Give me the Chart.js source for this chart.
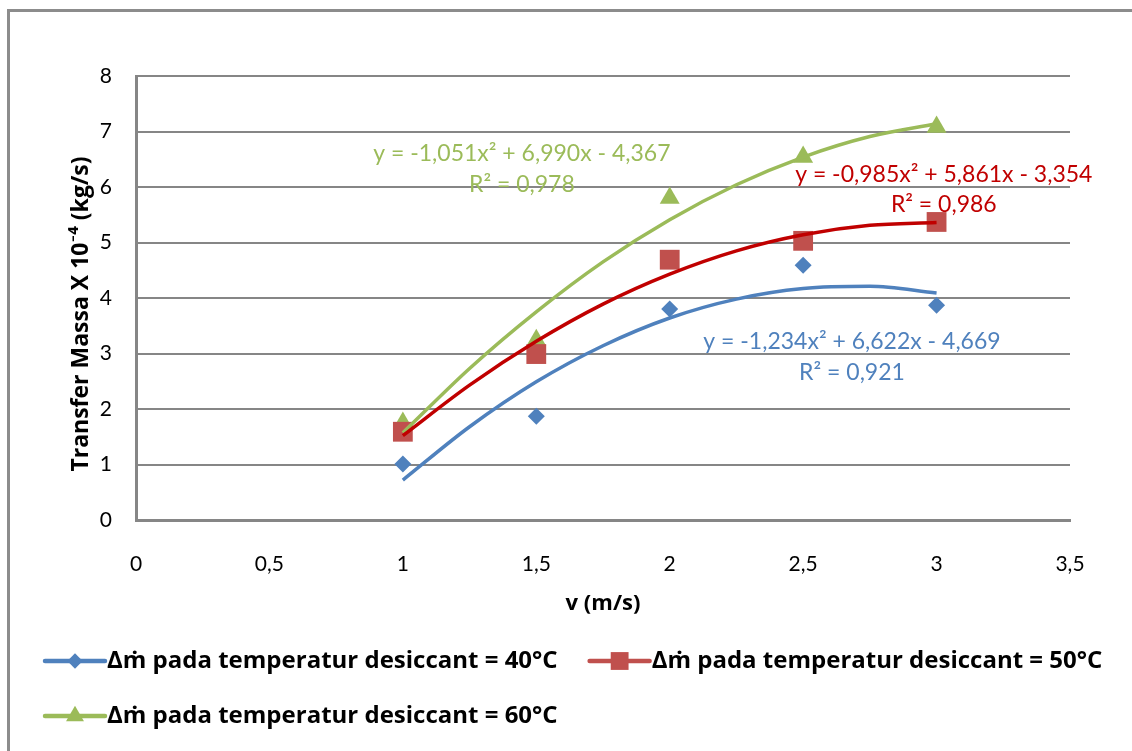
<!DOCTYPE html>
<html lang="id">
<head>
<meta charset="UTF-8">
<title>Transfer Massa vs v</title>
<script src="https://cdn.jsdelivr.net/npm/chart.js@4"></script>
<style>
  html, body { margin: 0; padding: 0; background: #fff; }
  .wrap { position: relative; width: 1132px; height: 751px; overflow: hidden; }
  .frame {
    position: absolute; left: 7px; top: 9px; width: 1300px; height: 900px;
    border-left: 3px solid #8c8c8c; border-top: 3px solid #8c8c8c;
  }
  canvas { position: absolute; left: 0; top: 0; }
</style>
</head>
<body>
<div class="wrap">
  <div class="frame"></div>
  <canvas id="chart" width="1132" height="751"></canvas>
</div>
<script>
// measured points (x = v in m/s, y = mass transfer x 10^-4 kg/s)
const velocity = [1, 1.5, 2, 2.5, 3];
const dm40 = [1.01, 1.87, 3.80, 4.59, 3.87];
const dm50 = [1.59, 2.99, 4.69, 5.03, 5.37];
const dm60 = [1.75, 3.24, 5.80, 6.54, 7.08];

// polynomial trendlines, every 0.25 m/s
const trendX = [1, 1.25, 1.5, 1.75, 2, 2.25, 2.5, 2.75, 3];
const trend40 = [0.72, 1.68, 2.49, 3.14, 3.64, 3.98, 4.17, 4.21, 4.09];
const trend50 = [1.52, 2.43, 3.22, 3.89, 4.43, 4.85, 5.14, 5.31, 5.36];
const trend60 = [1.57, 2.73, 3.75, 4.65, 5.41, 6.04, 6.54, 6.91, 7.14];

const seriesNames = [
  'Δṁ pada temperatur desiccant = 40°C',
  'Δṁ pada temperatur desiccant = 50°C',
  'Δṁ pada temperatur desiccant = 60°C'
];
const equations = [
  ['y = -1,234x² + 6,622x - 4,669', 'R² = 0,921'],
  ['y = -0,985x² + 5,861x - 3,354', 'R² = 0,986'],
  ['y = -1,051x² + 6,990x - 4,367', 'R² = 0,978']
];

const xTicks = [0, 0.5, 1, 1.5, 2, 2.5, 3, 3.5];
const yTicks = [0, 1, 2, 3, 4, 5, 6, 7, 8];
const yTitle = 'Transfer Massa X 10⁻⁴ (kg/s)';
const xTitle = 'v (m/s)';

const FONT = 'Lato, "Open Sans", sans-serif';
const BOLD = '"Open Sans", Lato, sans-serif';
const GRID = '#868686';

const toPts = (xs, ys) => xs.map((x, i) => ({ x: x, y: ys[i] }));
const comma = v => String(v).replace('.', ',');

function trendSet(ys, color) {
  return {
    data: toPts(trendX, ys), showLine: true, borderColor: color, borderWidth: 3.5,
    pointRadius: 0, cubicInterpolationMode: 'monotone', order: 0, isTrend: true
  };
}
function markSet(label, ys, color, style, radius) {
  return {
    label: label, data: toPts(velocity, ys), showLine: false,
    backgroundColor: color, borderColor: color, borderWidth: 0,
    pointStyle: style, pointRadius: radius, pointHoverRadius: radius, order: 1
  };
}

// trendline equations placed in data units
const equationPlugin = {
  id: 'equations',
  afterDatasetsDraw(chart, args, opts) {
    const { ctx, scales: { x, y } } = chart;
    ctx.save();
    ctx.font = opts.font;
    ctx.textAlign = 'center';
    ctx.textBaseline = 'middle';
    opts.items.forEach(it => {
      ctx.fillStyle = it.color;
      ctx.fillText(it.lines[0], x.getPixelForValue(it.x), y.getPixelForValue(it.y));
      ctx.fillText(it.lines[1], x.getPixelForValue(it.x), y.getPixelForValue(it.y2));
    });
    ctx.restore();
  }
};

// rotated y axis title, sits a little below the middle of the plot like the original
const yTitlePlugin = {
  id: 'yTitle',
  afterDraw(chart, args, opts) {
    const { ctx, chartArea } = chart;
    ctx.save();
    ctx.translate(opts.x, (chartArea.top + chartArea.bottom) / 2 + opts.shift);
    ctx.rotate(-Math.PI / 2);
    ctx.font = opts.font;
    ctx.fillStyle = '#000';
    ctx.textAlign = 'center';
    ctx.textBaseline = 'middle';
    ctx.fillText(opts.text, 0, 0);
    ctx.restore();
  }
};

// legend with line + marker, like the spreadsheet one
const legendPlugin = {
  id: 'lineLegend',
  afterDraw(chart, args, opts) {
    const ctx = chart.ctx;
    ctx.save();
    ctx.font = opts.font;
    ctx.textBaseline = 'middle';
    let x = opts.left, row = 0;
    chart.data.datasets.forEach(ds => {
      if (ds.isTrend) return;
      const w = opts.lineLen + opts.gap + ctx.measureText(ds.label).width;
      if (x + w > chart.width - 5) { x = opts.left; row++; }
      const yy = opts.top + row * opts.rowGap;
      ctx.strokeStyle = ds.borderColor;
      ctx.lineWidth = 4.5;
      ctx.lineCap = 'round';
      ctx.beginPath();
      ctx.moveTo(x, yy);
      ctx.lineTo(x + opts.lineLen, yy);
      ctx.stroke();
      ctx.fillStyle = ds.backgroundColor;
      Chart.helpers.drawPoint(ctx, { pointStyle: ds.pointStyle, radius: ds.pointRadius * 0.9, rotation: 0, borderWidth: 0 }, x + opts.lineLen / 2, yy);
      ctx.fillStyle = '#000';
      ctx.fillText(ds.label, x + opts.lineLen + opts.gap, yy);
      x += w + opts.itemGap;
    });
    ctx.restore();
  }
};

new Chart(document.getElementById('chart'), {
  type: 'scatter',
  data: {
    datasets: [
      trendSet(trend40, '#4F81BD'),
      trendSet(trend50, '#C00000'),
      trendSet(trend60, '#9BBB59'),
      markSet(seriesNames[0], dm40, '#4F81BD', 'rectRot', 8.5),
      markSet(seriesNames[1], dm50, '#C0504D', 'rect', 14),
      markSet(seriesNames[2], dm60, '#9BBB59', 'triangle', 11.5)
    ]
  },
  options: {
    responsive: false,
    animation: false,
    layout: { padding: { top: 76, right: 62, bottom: 131, left: 0 } },
    plugins: {
      legend: { display: false },
      tooltip: { enabled: false },
      equations: {
        font: '23px ' + FONT,
        items: [
          { lines: equations[2], color: '#9BBB59', x: 1.446, y: 6.61, y2: 6.04 },
          { lines: equations[1], color: '#C00000', x: 3.027, y: 6.23, y2: 5.68 },
          { lines: equations[0], color: '#4F81BD', x: 2.683, y: 3.21, y2: 2.65 }
        ]
      },
      yTitle: { text: yTitle, font: 'bold 23px ' + BOLD, x: 81, shift: 16 },
      lineLegend: { font: 'bold 24px ' + BOLD, left: 45, top: 661, rowGap: 55, lineLen: 60, gap: 2, itemGap: 32 }
    },
    scales: {
      x: {
        type: 'linear', min: 0, max: 3.5,
        afterBuildTicks: s => { s.ticks = xTicks.map(v => ({ value: v })); },
        afterFit: s => { s.height = 100; },
        grid: { display: false, drawTicks: false },
        border: { display: true, color: GRID, width: 3 },
        ticks: { color: '#000', padding: 32, font: { family: FONT, size: 21 }, callback: v => comma(v) },
        title: { display: true, text: xTitle, color: '#000', font: { family: BOLD, size: 22, weight: 'bold' }, padding: { top: 0, bottom: 3 } }
      },
      y: {
        type: 'linear', min: 0, max: 8,
        afterBuildTicks: s => { s.ticks = yTicks.map(v => ({ value: v })); },
        afterFit: s => { s.width = 136; },
        grid: { color: GRID, lineWidth: 2, drawTicks: false },
        border: { display: true, color: GRID, width: 3 },
        ticks: { color: '#000', padding: 24, font: { family: FONT, size: 21 }, callback: v => comma(v) },
        title: { display: false }
      }
    }
  },
  plugins: [equationPlugin, yTitlePlugin, legendPlugin]
});
</script>
</body>
</html>
